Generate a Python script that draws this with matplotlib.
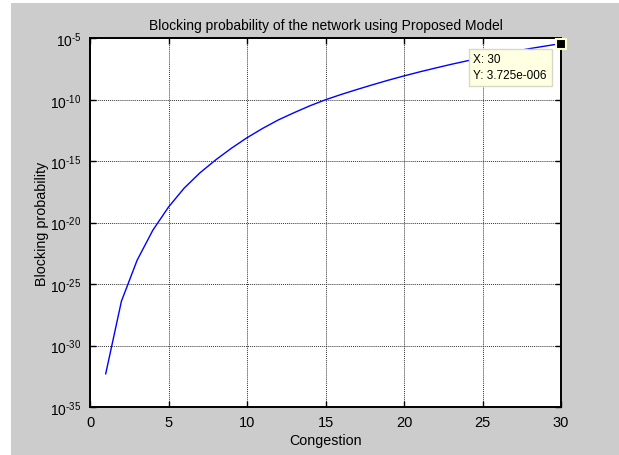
"""Blocking probability vs. congestion for the proposed model."""

import matplotlib

matplotlib.use("Agg")

import matplotlib.pyplot as plt
from matplotlib.patches import Rectangle
from matplotlib.ticker import FixedLocator, NullLocator

plt.rcParams["font.family"] = ["Liberation Sans", "DejaVu Sans"]
plt.rcParams["mathtext.fontset"] = "custom"
plt.rcParams["mathtext.rm"] = "Liberation Sans"
plt.rcParams["mathtext.default"] = "regular"

congestion = list(range(1, 31))
blocking_prob = [
    5.0e-33, 4.0e-27, 8.7e-24, 2.4e-21, 1.86e-19,
    6.5e-18, 1.12e-16, 1.26e-15, 1.12e-14, 8.1e-14,
    4.7e-13, 2.3e-12, 8.9e-12, 3.2e-11, 1.0e-10,
    2.7e-10, 6.8e-10, 1.66e-9, 3.9e-9, 8.7e-9,
    1.86e-8, 3.8e-8, 7.6e-8, 1.45e-7, 2.7e-7,
    4.9e-7, 8.5e-7, 1.45e-6, 2.34e-6, 3.725e-6,
]
x_ticks = [0, 5, 10, 15, 20, 25, 30]
y_exponents = [-35, -30, -25, -20, -15, -10, -5]
tip_x = congestion[-1]
tip_y = blocking_prob[-1]

fig = plt.figure(figsize=(6.19, 4.56), dpi=100, facecolor="white")
# grey window background, leaving a thin white strip on the left and top
fig.patches.append(
    Rectangle((11 / 619, 0), 1, 452 / 456, transform=fig.transFigure,
              facecolor="#cccccc", edgecolor="none", zorder=-10)
)

ax = fig.add_axes([0.1454, 0.1053, 0.7609, 0.8085])
ax.set_facecolor("white")
ax.semilogy(congestion, blocking_prob, color="#0000ff", linewidth=1.0)

ax.set_xlim(0, 30)
ax.set_ylim(1e-35, 1e-5)
ax.xaxis.set_major_locator(FixedLocator(x_ticks))
ax.yaxis.set_major_locator(FixedLocator([10.0 ** e for e in y_exponents]))
ax.yaxis.set_minor_locator(NullLocator())
ax.set_yticklabels([f"$10^{{\\text{{{e}}}}}$" for e in y_exponents])

ax.grid(True, which="major", color="#333333", linestyle=(0, (1, 1)), linewidth=0.7)
ax.tick_params(direction="in", length=4, width=1.0, top=True, right=True,
               colors="black")
ax.tick_params(axis="y", pad=6, labelsize=10)
ax.tick_params(axis="x", pad=6, labelsize=10.5)
for spine in ax.spines.values():
    spine.set_linewidth(1.4)

ax.set_title("Blocking probability of the network using Proposed Model",
             fontsize=10, pad=7)
ax.set_xlabel("Congestion", fontsize=10.3, labelpad=3)
ax.set_ylabel("Blocking probability", fontsize=10.3, labelpad=1)

# data tip on the last point
ax.plot([tip_x], [tip_y], marker="s", markersize=7, color="black",
        markeredgecolor="#ffffcc", markeredgewidth=1.5, clip_on=False, zorder=6)
ax.annotate(
    f"X: {tip_x}\nY: {tip_y:.3e}".replace("e-06", "e-006"),
    xy=(tip_x, tip_y), xytext=(-63, -7), textcoords="offset points",
    ha="left", va="top", fontsize=8.5, linespacing=1.4,
    bbox={"boxstyle": "square,pad=0.4", "facecolor": "#ffffe1",
          "edgecolor": "#d8d8c8", "linewidth": 1.0},
    zorder=7,
)

fig.savefig("out.png", dpi=100, facecolor=fig.get_facecolor())
